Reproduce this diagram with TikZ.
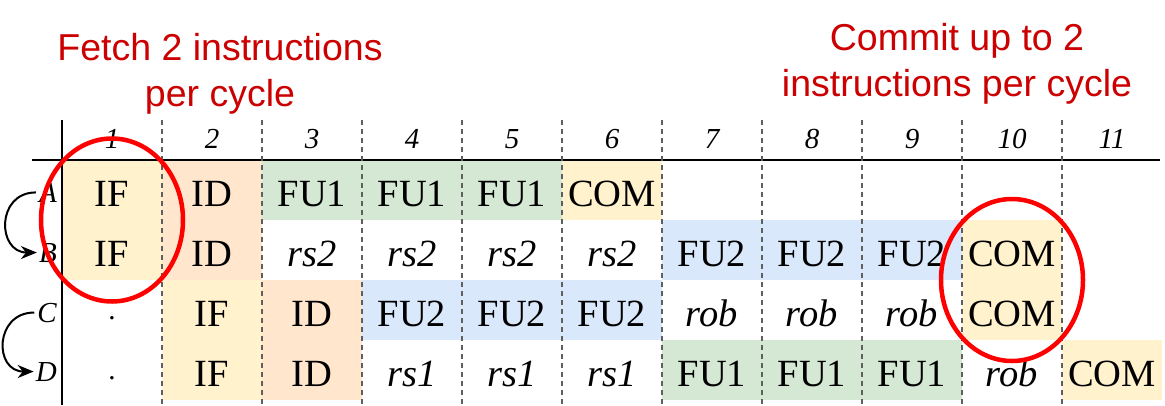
\documentclass[tikz,border=0pt]{standalone}
\usepackage{fontspec}
\setmainfont{Liberation Serif}
\newfontfamily\capfont{Liberation Sans}
\usetikzlibrary{arrows.meta}
\definecolor{cyel}{HTML}{FFF2CC}
\definecolor{cora}{HTML}{FFE6CC}
\definecolor{cgre}{HTML}{D5E8D4}
\definecolor{cblu}{HTML}{DAE8FC}
\definecolor{cred}{HTML}{CC0000}
\definecolor{cring}{HTML}{FF0000}
\definecolor{cdash}{HTML}{5F5F5F}
\tikzset{
  cellbox/.style={minimum width=100pt, minimum height=60pt, inner sep=0pt, outer sep=0pt,
    text height=46pt, text depth=14pt, font=\fontsize{38.5}{44}\selectfont},
  hdr/.style={inner sep=0pt, anchor=base, font=\fontsize{29}{34}\selectfont\itshape},
  rowlbl/.style={inner sep=0pt, anchor=base east, font=\fontsize{29}{34}\selectfont\itshape},
  dotlbl/.style={inner sep=0pt, anchor=base, font=\fontsize{29}{34}\selectfont},
  caption/.style={inner sep=0pt, anchor=base, align=center, text=cred, font=\capfont\fontsize{37.5}{46}\selectfont},
  gridsolid/.style={line width=2.5pt, black},
  griddash/.style={line width=2pt, cdash, dash pattern=on 5pt off 4pt},
  redring/.style={line width=4.5pt, cring},
  orderarrow/.style={line width=2pt, -{Stealth[length=16pt,width=13pt]}}
}
\begin{document}
\begin{tikzpicture}[x=1pt,y=-1pt]
\useasboundingbox (0,0) rectangle (1165,405);
% cells
\foreach \c/\r/\f/\t in {
  1/1/cyel/IF, 2/1/cora/ID, 3/1/cgre/FU1, 4/1/cgre/FU1, 5/1/cgre/FU1, 6/1/cyel/COM,
  1/2/cyel/IF, 2/2/cora/ID, 3/2/none/\textit{rs2}, 4/2/none/\textit{rs2}, 5/2/none/\textit{rs2}, 6/2/none/\textit{rs2},
  7/2/cblu/FU2, 8/2/cblu/FU2, 9/2/cblu/FU2, 10/2/cyel/COM,
  2/3/cyel/IF, 3/3/cora/ID, 4/3/cblu/FU2, 5/3/cblu/FU2, 6/3/cblu/FU2,
  7/3/none/\textit{rob}, 8/3/none/\textit{rob}, 9/3/none/\textit{rob}, 10/3/cyel/COM,
  2/4/cyel/IF, 3/4/cora/ID, 4/4/none/\textit{rs1}, 5/4/none/\textit{rs1}, 6/4/none/\textit{rs1},
  7/4/cgre/FU1, 8/4/cgre/FU1, 9/4/cgre/FU1, 10/4/none/\textit{rob}, 11/4/cyel/COM}
  \node[cellbox, fill=\f] (cell-\r-\c) at ({112+100*(\c-1)},{190+60*(\r-1)}) {\t};
% dots in first column
\node[dotlbl] (dotC) at (112,319) {.};
\node[dotlbl] (dotD) at (112,379) {.};
% grid
\coordinate (vtop) at (62,120);
\coordinate (vbot) at (62,405);
\draw[gridsolid] (vtop) -- (vbot);
\coordinate (hl) at (32,160);
\coordinate (hr) at (1160,160);
\draw[gridsolid] (hl) -- (hr);
\foreach \c in {1,...,10}
  \draw[griddash] ({62+100*\c},120) -- ({62+100*\c},405);
% header
\foreach \c in {1,...,11}
  \node[hdr] (h\c) at ({112+100*(\c-1)},148) {\c};
% row labels
\node[rowlbl] (la) at (57,202) {A};
\node[rowlbl] (lb) at (57,262) {B};
\node[rowlbl] (lc) at (57,322) {C};
\node[rowlbl] (ld) at (57,381) {D};
% order arrows
\draw[orderarrow] ([xshift=-3pt]la.west) .. controls +(-40,0) and +(-40,0) .. ([xshift=-2pt]lb.west);
\draw[orderarrow] ([xshift=-3pt]lc.west) .. controls +(-40,0) and +(-40,0) .. ([xshift=-2pt]ld.west);
% captions (base anchor = last line)
\node[caption] (fetch) at (220,106) {Fetch 2 instructions\\per cycle};
\node[caption] (commit) at (957,96) {Commit up to 2\\instructions per cycle};
% red rings
\draw[redring] (112,220) ellipse [x radius=71, y radius=81.5];
\draw[redring] (1012,280) ellipse [x radius=71, y radius=81];
\end{tikzpicture}
\end{document}
